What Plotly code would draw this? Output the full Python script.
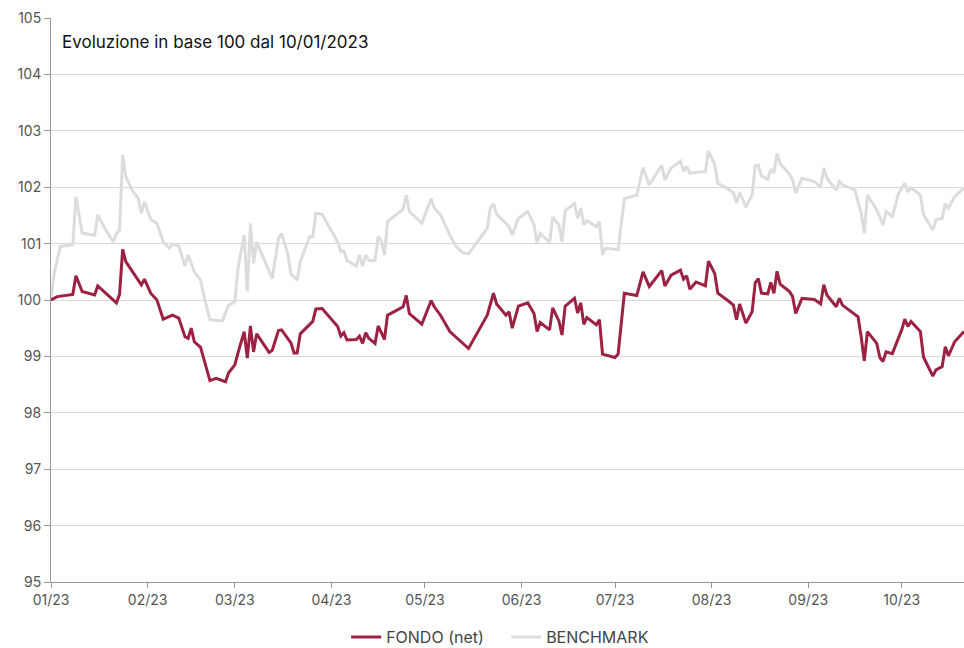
import pandas as pd
import plotly.graph_objects as go

# ---- data ----
base_date = "2023-01-10"

fondo_days = [0, 2, 7, 8, 10, 14, 15, 21, 22, 23, 24, 28, 29, 30, 32, 34, 36, 39, 41, 43,
              44, 45, 46, 48, 50, 51, 53, 56, 57, 59, 60, 62, 63, 64, 65, 66, 70, 71, 73, 74,
              77, 78, 79, 80, 84, 85, 87, 92, 93, 94, 95, 98, 99, 100, 101, 102, 104, 105, 107, 108,
              110, 113, 114, 115, 119, 122, 123, 125, 128, 132, 134, 140, 142, 143, 146, 147, 148, 150, 153, 155,
              156, 157, 160, 161, 163, 164, 165, 168, 169, 170, 171, 172, 175, 176, 177, 181, 182, 184, 188, 190,
              192, 196, 197, 199, 202, 203, 204, 205, 207, 210, 211, 213, 214, 217, 219, 220, 221, 223, 225, 226,
              227, 228, 230, 231, 232, 233, 234, 237, 238, 239, 241, 245, 247, 248, 249, 252, 253, 254, 256, 259,
              260, 261, 262, 265, 266, 267, 268, 270, 273, 274, 275, 276, 279, 280, 283, 284, 286, 287, 288, 290,
              293]
fondo_values = [100.00, 100.06, 100.10, 100.43, 100.15, 100.09, 100.25, 99.95, 100.10, 100.90,
                100.68, 100.35, 100.27, 100.37, 100.12, 100.00, 99.66, 99.73, 99.68, 99.35,
                99.32, 99.50, 99.26, 99.16, 98.76, 98.57, 98.61, 98.55, 98.71, 98.85,
                99.06, 99.44, 98.97, 99.54, 99.08, 99.40, 99.07, 99.11, 99.46, 99.47,
                99.24, 99.06, 99.06, 99.40, 99.62, 99.84, 99.85, 99.53, 99.36, 99.42,
                99.29, 99.30, 99.36, 99.23, 99.42, 99.32, 99.23, 99.54, 99.30, 99.73,
                99.79, 99.88, 100.08, 99.76, 99.57, 99.99, 99.88, 99.73, 99.44, 99.23,
                99.14, 99.73, 100.12, 99.93, 99.73, 99.79, 99.50, 99.89, 99.95, 99.76,
                99.44, 99.60, 99.47, 99.86, 99.63, 99.38, 99.89, 100.03, 99.77, 99.95,
                99.57, 99.69, 99.56, 99.65, 99.04, 98.98, 99.04, 100.12, 100.08, 100.50,
                100.24, 100.52, 100.25, 100.44, 100.53, 100.37, 100.43, 100.19, 100.32, 100.25,
                100.69, 100.47, 100.12, 100.00, 99.91, 99.65, 99.93, 99.59, 99.79, 100.31,
                100.38, 100.12, 100.11, 100.31, 100.12, 100.51, 100.28, 100.15, 100.06, 99.76,
                100.03, 100.01, 99.93, 100.27, 100.09, 99.88, 100.03, 99.91, 99.82, 99.70,
                99.35, 98.92, 99.44, 99.23, 98.98, 98.91, 99.08, 99.05, 99.47, 99.66,
                99.53, 99.62, 99.44, 98.99, 98.65, 98.76, 98.82, 99.17, 99.01, 99.26,
                99.44]

bench_days = [0, 1, 3, 7, 8, 10, 14, 15, 17, 20, 21, 22, 23, 24, 26, 28, 29, 30, 32, 34,
              36, 38, 39, 41, 43, 44, 46, 48, 49, 51, 55, 57, 59, 60, 62, 63, 64, 65, 66, 71,
              73, 74, 76, 77, 78, 79, 80, 83, 84, 85, 87, 92, 93, 94, 95, 98, 99, 100, 101, 102,
              104, 105, 106, 107, 108, 113, 114, 115, 119, 122, 123, 125, 128, 130, 132, 134, 140, 141, 142, 143,
              146, 147, 148, 150, 153, 155, 156, 157, 160, 161, 163, 164, 165, 168, 169, 170, 171, 172, 175, 176,
              177, 178, 182, 184, 188, 190, 192, 196, 197, 199, 202, 203, 204, 205, 210, 211, 213, 214, 217, 219,
              220, 221, 223, 225, 226, 227, 228, 230, 231, 232, 233, 234, 237, 238, 239, 241, 245, 247, 248, 249,
              252, 253, 254, 258, 259, 260, 261, 262, 265, 267, 268, 270, 272, 274, 275, 276, 279, 280, 283, 284,
              286, 287, 288, 290, 293]
bench_values = [100.00, 100.47, 100.95, 100.98, 101.83, 101.19, 101.15, 101.51, 101.30, 101.03,
                101.18, 101.24, 102.57, 102.19, 101.95, 101.80, 101.54, 101.74, 101.43, 101.36,
                101.03, 100.92, 100.99, 100.96, 100.60, 100.80, 100.50, 100.35, 100.09, 99.65,
                99.63, 99.91, 99.97, 100.56, 101.15, 100.15, 101.36, 100.65, 101.03, 100.38,
                101.09, 101.18, 100.82, 100.46, 100.41, 100.35, 100.68, 101.12, 101.12, 101.54,
                101.52, 101.03, 100.86, 100.87, 100.70, 100.60, 100.80, 100.60, 100.80, 100.70,
                100.70, 101.13, 101.05, 100.80, 101.39, 101.61, 101.86, 101.57, 101.36, 101.80,
                101.63, 101.51, 101.15, 100.95, 100.84, 100.82, 101.27, 101.63, 101.71, 101.52,
                101.36, 101.30, 101.15, 101.45, 101.57, 101.33, 101.02, 101.18, 101.02, 101.47,
                101.33, 101.03, 101.58, 101.71, 101.45, 101.63, 101.33, 101.41, 101.30, 101.39,
                100.80, 100.92, 100.89, 101.80, 101.86, 102.35, 102.04, 102.39, 102.13, 102.34,
                102.46, 102.28, 102.37, 102.25, 102.28, 102.64, 102.40, 102.07, 101.98, 101.90,
                101.72, 101.91, 101.65, 101.86, 102.38, 102.39, 102.20, 102.14, 102.32, 102.25,
                102.60, 102.42, 102.23, 102.13, 101.90, 102.16, 102.10, 102.00, 102.34, 102.16,
                101.95, 102.10, 102.04, 101.95, 101.74, 101.54, 101.18, 101.86, 101.60, 101.33,
                101.57, 101.48, 101.89, 102.07, 101.92, 101.99, 101.86, 101.51, 101.24, 101.42,
                101.45, 101.71, 101.63, 101.83, 101.99]

tick_dates = ["2023-01-10", "2023-02-10", "2023-03-10", "2023-04-10", "2023-05-10",
              "2023-06-10", "2023-07-10", "2023-08-10", "2023-09-10", "2023-10-10"]
tick_labels = ["01/23", "02/23", "03/23", "04/23", "05/23",
               "06/23", "07/23", "08/23", "09/23", "10/23"]

title_text = "Evoluzione in base 100 dal 10/01/2023"
fondo_name = "FONDO (net)"
bench_name = "BENCHMARK"

# ---- build ----
base = pd.Timestamp(base_date)
fondo_dates = base + pd.to_timedelta(fondo_days, unit="D")
bench_dates = base + pd.to_timedelta(bench_days, unit="D")

FONT = "Inter, Lato, sans-serif"

fig = go.Figure()
fig.add_trace(go.Scatter(x=bench_dates, y=bench_values, mode="lines", name=bench_name,
                         line=dict(color="#DCDCDC", width=3)))
fig.add_trace(go.Scatter(x=fondo_dates, y=fondo_values, mode="lines", name=fondo_name,
                         line=dict(color="#9B2242", width=3)))

fig.update_layout(
    width=964, height=648,
    margin=dict(l=51, r=0, t=18, b=66, autoexpand=False),
    paper_bgcolor="white", plot_bgcolor="white",
    font=dict(family=FONT, size=14, color="#555555"),
    showlegend=True,
    legend=dict(orientation="h", traceorder="reversed",
                x=0.4985, xanchor="center", y=-0.0975, yanchor="middle",
                entrywidth=115, entrywidthmode="pixels",
                font=dict(family=FONT, size=16, color="#444444"), itemwidth=30),
    annotations=[dict(text=title_text, xref="paper", yref="paper", x=0.0095, y=0.958,
                      xanchor="left", yanchor="middle", showarrow=False,
                      font=dict(family=FONT, size=17, color="#111111"))],
)
fig.update_xaxes(
    range=[base, base + pd.Timedelta(days=293)],
    tickvals=pd.to_datetime(tick_dates), ticktext=tick_labels,
    showgrid=False, showline=True, linecolor="#999999", linewidth=1,
    ticks="outside", ticklen=5, tickcolor="#999999",
    tickfont=dict(family=FONT, size=14, color="#555555"), zeroline=False,
    automargin=False,
)
fig.update_yaxes(
    range=[95, 105], dtick=1, tick0=95,
    showgrid=True, gridcolor="#D9D9D9", gridwidth=1,
    showline=True, linecolor="#999999", linewidth=1,
    ticks="outside", ticklen=6, tickcolor="#999999",
    tickfont=dict(family=FONT, size=14, color="#555555"), zeroline=False,
    automargin=False,
)

fig.write_html("out.html", config={"displayModeBar": False},
               post_script="document.body.style.margin='0';")
